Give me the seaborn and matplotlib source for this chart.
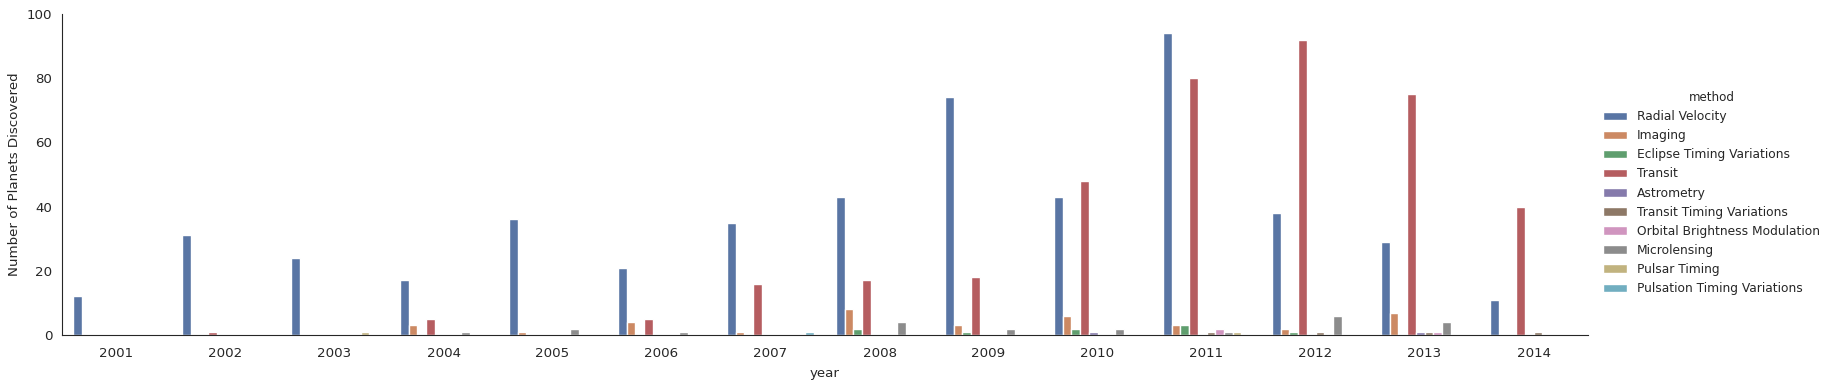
import pandas as pd
import matplotlib
matplotlib.use("Agg")
import matplotlib.pyplot as plt
import seaborn as sns

# planets discovered per year
years = list(range(2001, 2015))
methods = ["Radial Velocity", "Imaging", "Eclipse Timing Variations", "Transit",
           "Astrometry", "Transit Timing Variations", "Orbital Brightness Modulation",
           "Microlensing", "Pulsar Timing", "Pulsation Timing Variations"]

radial_velocity = [12, 31, 24, 17, 36, 21, 35, 43, 74, 43, 94, 38, 29, 11]
imaging         = [0, 0, 0, 3, 1, 4, 1, 8, 3, 6, 3, 2, 7, 0]
eclipse_timing  = [0, 0, 0, 0, 0, 0, 0, 2, 1, 2, 3, 1, 0, 0]
transit         = [0, 1, 0, 5, 0, 5, 16, 17, 18, 48, 80, 92, 75, 40]
astrometry      = [0, 0, 0, 0, 0, 0, 0, 0, 0, 1, 0, 0, 1, 0]
transit_timing  = [0, 0, 0, 0, 0, 0, 0, 0, 0, 0, 1, 1, 1, 1]
orbital_bright  = [0, 0, 0, 0, 0, 0, 0, 0, 0, 0, 2, 0, 1, 0]
microlensing    = [0, 0, 0, 1, 2, 1, 0, 4, 2, 2, 1, 6, 4, 0]
pulsar_timing   = [0, 0, 1, 0, 0, 0, 0, 0, 0, 0, 1, 0, 0, 0]
pulsation_tv    = [0, 0, 0, 0, 0, 0, 1, 0, 0, 0, 0, 0, 0, 0]

all_counts = [radial_velocity, imaging, eclipse_timing, transit, astrometry,
              transit_timing, orbital_bright, microlensing, pulsar_timing, pulsation_tv]

# one row per planet, like the original dataset
rows = []
for method, counts in zip(methods, all_counts):
    for year, n in zip(years, counts):
        rows += [{"year": year, "method": method}] * n
planets = pd.DataFrame(rows)

sns.set_style("white")
plt.rcParams.update({"font.size": 9.6, "axes.labelsize": 9.6,
                     "xtick.labelsize": 9.6, "ytick.labelsize": 9.6,
                     "xtick.major.pad": 5.3})

g = sns.catplot(data=planets, x="year", kind="count", hue="method",
                order=years, hue_order=methods, height=4, aspect=4.0,
                palette="deep")
g.set_ylabels("Number of Planets Discovered")
g.set_xlabels("year", labelpad=5)
g.set(ylim=(0, 100))

fig = g.figure
fig.set_size_inches(18.34, 3.87)
fig.subplots_adjust(left=62/1834, right=1588/1834, top=1-14/387, bottom=1-335/387)
sns.move_legend(g, "upper left", bbox_to_anchor=(1592/1834, 1-80/387), frameon=False,
                title="method", fontsize=8.8, title_fontsize=8.6, labelspacing=0.5)

fig.savefig("out.png", dpi=100)
